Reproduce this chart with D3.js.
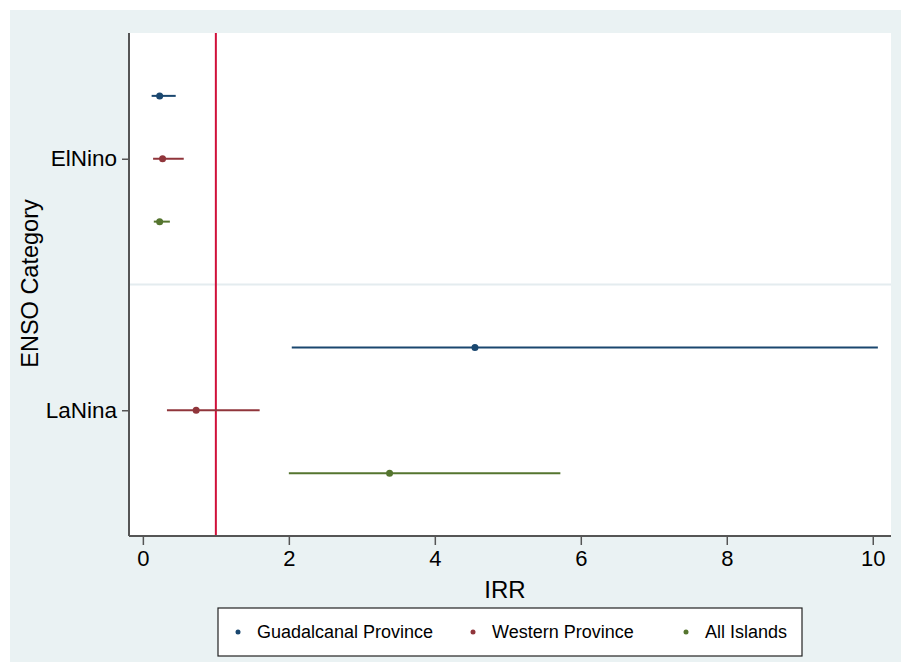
<!DOCTYPE html>
<html>
<head>
<meta charset="utf-8">
<script src="https://cdn.jsdelivr.net/npm/d3@7"></script>
<style>
  body { margin: 0; background: #fff; }
  svg text { font-family: "Liberation Sans", Arial, sans-serif; fill: #000; }
</style>
</head>
<body>
<svg id="chart" width="901" height="662"></svg>
<script>
// ENSO categories and groups
var categories = ['ElNino', 'LaNina'];
var groups = ['Guadalcanal Province', 'Western Province', 'All Islands'];
var colors = ['#1a476f', '#90353b', '#55752f'];

// IRR point estimates and 95% CI per group, order follows categories
var irr   = [[0.23, 4.55], [0.27, 0.73], [0.23, 3.38]];
var lower = [[0.12, 2.04], [0.14, 0.33], [0.15, 2.00]];
var upper = [[0.45, 10.07], [0.56, 1.60], [0.37, 5.72]];

var xTicks = [0, 2, 4, 6, 8, 10];

var svg = d3.select('#chart');

// graph region
svg.append('rect')
  .attr('x', 10).attr('y', 10)
  .attr('width', 891).attr('height', 652)
  .attr('fill', '#eaf2f3');

var pLeft = 129, pRight = 891, pTop = 33, pBottom = 536;

svg.append('rect')
  .attr('x', pLeft).attr('y', pTop)
  .attr('width', pRight - pLeft).attr('height', pBottom - pTop)
  .attr('fill', '#fff');

var x = d3.scaleLinear().domain([-0.19, 10.25]).range([pLeft, pRight]);
var y = d3.scalePoint().domain(categories).range([pTop, pBottom]).padding(0.5);
var off = y.step() / 4;

// separator between categories
var midY = (y('ElNino') + y('LaNina')) / 2;
svg.append('line')
  .attr('x1', pLeft).attr('x2', pRight)
  .attr('y1', midY).attr('y2', midY)
  .attr('stroke', '#e4ecef').attr('stroke-width', 2);

// reference line at IRR = 1
svg.append('line')
  .attr('x1', x(1)).attr('x2', x(1))
  .attr('y1', pTop).attr('y2', pBottom)
  .attr('stroke', '#d0103a').attr('stroke-width', 2);

var rows = [];
for (var g = 0; g < groups.length; ++g) {
  for (var c = 0; c < categories.length; ++c) {
    rows.push({ g: g, cat: categories[c], est: irr[g][c], lo: lower[g][c], hi: upper[g][c] });
  }
}

function yPos (d) { return y(d.cat) + (d.g - 1) * off; }

svg.selectAll('line.ci').data(rows).enter()
  .append('line')
  .attr('class', 'ci')
  .attr('x1', function(d) { return x(d.lo); })
  .attr('x2', function(d) { return x(d.hi); })
  .attr('y1', yPos).attr('y2', yPos)
  .attr('stroke', function(d) { return colors[d.g]; })
  .attr('stroke-width', 2);

svg.selectAll('circle.pt').data(rows).enter()
  .append('circle')
  .attr('class', 'pt')
  .attr('cx', function(d) { return x(d.est); })
  .attr('cy', yPos)
  .attr('r', 3.5)
  .attr('fill', function(d) { return colors[d.g]; });

// axes
var xAxis = svg.append('g')
  .attr('transform', 'translate(0,' + pBottom + ')')
  .call(d3.axisBottom(x).tickValues(xTicks).tickSize(9).tickPadding(5));
xAxis.select('.domain').attr('stroke', '#555').attr('stroke-width', 2)
  .attr('d', 'M' + pLeft + ',0H' + pRight);
xAxis.selectAll('.tick line').attr('stroke', '#555').attr('stroke-width', 1.5);
xAxis.selectAll('.tick text').attr('font-size', 22).attr('fill', '#000');

var yAxis = svg.append('g')
  .attr('transform', 'translate(' + pLeft + ',0)')
  .call(d3.axisLeft(y).tickSize(7).tickPadding(5));
yAxis.select('.domain').attr('stroke', '#555').attr('stroke-width', 2)
  .attr('d', 'M0,' + pTop + 'V' + pBottom);
yAxis.selectAll('.tick line').attr('stroke', '#555').attr('stroke-width', 1.5);
yAxis.selectAll('.tick text').attr('font-size', 22.5).attr('fill', '#000');

// axis titles
svg.append('text')
  .attr('x', (pLeft + pRight) / 2 - 5).attr('y', 598)
  .attr('text-anchor', 'middle')
  .attr('font-size', 24)
  .text('IRR');

svg.append('text')
  .attr('transform', 'translate(38,' + ((pTop + pBottom) / 2 - 1) + ') rotate(-90)')
  .attr('text-anchor', 'middle')
  .attr('font-size', 23.5)
  .text('ENSO Category');

// legend
svg.append('rect')
  .attr('x', 218).attr('y', 608)
  .attr('width', 584).attr('height', 48)
  .attr('fill', '#fff').attr('stroke', '#222').attr('stroke-width', 1.2);

var legX = [238, 473, 686];
var leg = svg.selectAll('g.leg').data(groups).enter()
  .append('g')
  .attr('class', 'leg')
  .attr('transform', function(d, i) { return 'translate(' + legX[i] + ',632)'; });
leg.append('circle').attr('r', 2.5).attr('fill', function(d, i) { return colors[i]; });
leg.append('text')
  .attr('x', 19).attr('dy', '0.35em')
  .attr('font-size', 18)
  .text(function(d) { return d; });
</script>
</body>
</html>
